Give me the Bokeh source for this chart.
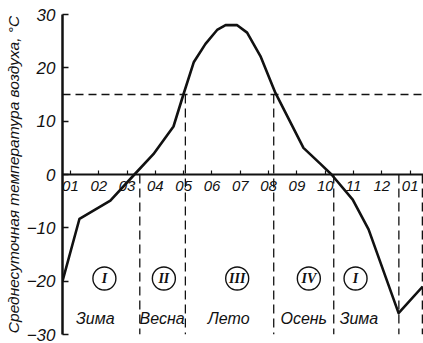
from bokeh.plotting import figure
from bokeh.models import Range1d, LinearAxis, FixedTicker, Span
from bokeh.core.properties import value
from bokeh.embed import file_html
from bokeh.resources import INLINE

# ---- data ----
month_pos = [1, 2, 3, 4, 5, 6, 7, 8, 9, 10, 11, 12, 13]
month_labels = ["01", "02", "03", "04", "05", "06", "07", "08", "09", "10", "11", "12", "01"]

curve_x = [0.72, 1.32, 2.41, 3.26, 3.93, 4.64, 4.99, 5.36, 5.77, 6.18, 6.48,
           6.89, 7.24, 7.71, 8.24, 9.23, 9.83, 10.22, 10.97, 11.53, 12.59, 13.44]
curve_t = [-20, -8.3, -4.9, 0, 3.8, 9, 15, 21.1, 24.5, 27.1, 28.0,
           28.0, 26.6, 22.2, 15.3, 5, 2, 0, -4.7, -10.3, -26, -21]

threshold_t = 15
bound_x = [3.45, 5.06, 8.18, 10.30, 12.60, 13.43]
bound_top = [0, 15, 15, 0, 0, 0]

season_names = ["Зима", "Весна", "Лето", "Осень", "Зима"]
season_x = [1.88, 4.24, 6.59, 9.24, 11.19]
roman = ["I", "II", "III", "IV", "I"]
roman_x = [2.20, 4.30, 6.89, 9.42, 11.07]

y_ticks = [-30, -20, -10, 0, 10, 20, 30]
y_title = "Среднесуточная температура воздуха, °С"

FONT = "Liberation Sans"
INK = "#111111"

p = figure(width=423, height=343, output_backend="svg", toolbar_location=None,
           x_range=Range1d(0.72, 13.47), y_range=Range1d(-30, 30),
           x_axis_type=None, min_border_left=62, min_border_right=0,
           min_border_top=14, min_border_bottom=9)
p.outline_line_color = None
p.grid.visible = False
p.background_fill_color = "white"

# y axis
ya = p.yaxis[0]
ya.ticker = FixedTicker(ticks=y_ticks)
ya.axis_line_width = 2.5
ya.axis_line_color = INK
ya.major_tick_in = 6
ya.major_tick_out = 0
ya.major_tick_line_width = 1.5
ya.major_tick_line_color = INK
ya.minor_tick_line_color = None
ya.major_label_text_font = FONT
ya.major_label_text_font_style = "italic"
ya.major_label_text_font_size = "17px"
ya.major_label_text_color = INK
ya.major_label_standoff = 7
ya.axis_label = y_title
ya.axis_label_text_font = FONT
ya.axis_label_text_font_style = "italic"
ya.axis_label_text_font_size = "15.5px"
ya.axis_label_text_color = INK
ya.axis_label_standoff = 2

# x axis at t = 0
xa = LinearAxis(fixed_location=0, ticker=FixedTicker(ticks=month_pos),
                major_label_overrides={m: l for m, l in zip(month_pos, month_labels)})
xa.axis_line_width = 2
xa.axis_line_color = INK
xa.major_tick_in = 4
xa.major_tick_out = 0
xa.major_tick_line_width = 1.2
xa.major_tick_line_color = INK
xa.minor_tick_line_color = None
xa.major_label_text_font = FONT
xa.major_label_text_font_style = "italic"
xa.major_label_text_font_size = "15px"
xa.major_label_text_color = INK
xa.major_label_standoff = 6
p.add_layout(xa, "below")

# threshold and season boundaries
p.add_layout(Span(location=threshold_t, dimension="width", line_color=INK,
                  line_width=1.3, line_dash="8 5"))
p.segment(x0=bound_x, x1=bound_x, y0=bound_top, y1=[-30] * len(bound_x),
          line_color=INK, line_width=1.3, line_dash="9 5")

# curve
p.line(curve_x, curve_t, line_color=INK, line_width=2.6, line_join="round")

# season marks
p.scatter(roman_x, [-19.5] * len(roman_x), marker="circle", size=23,
          fill_color=None, line_color=INK, line_width=1.4)
p.text(roman_x, [-19.5] * len(roman_x), text=roman, text_font=value("Liberation Serif"),
       text_font_style="bold italic", text_font_size="14px", text_align="center",
       text_baseline="middle", text_color=INK)
p.text(season_x, [-27.0] * len(season_x), text=season_names, text_font=value(FONT),
       text_font_style="italic", text_font_size="16px", text_align="center",
       text_baseline="middle", text_color=INK)

open("out.html", "w").write(file_html(p, INLINE))
